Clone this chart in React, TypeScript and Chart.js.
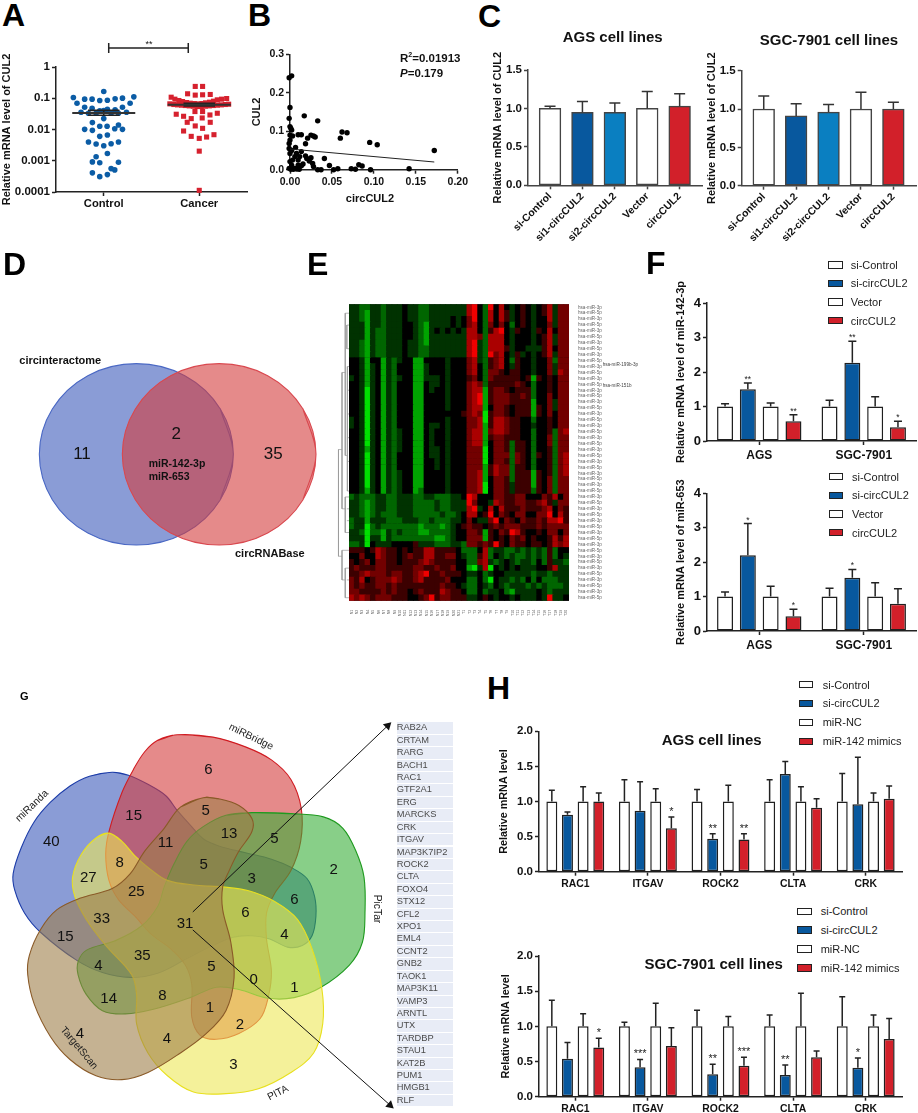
import React, { useEffect, useRef } from 'react';
import { Chart, registerables } from 'chart.js';
Chart.register(...registerables);

const FONT = '"Liberation Sans", Arial, sans-serif';
Chart.defaults.font.family = FONT;

const BLUE = '#08589e', LBLUE = '#0a7fc1', RED = '#d2202a', WHITE = '#ffffff', INK = '#222222';

/* ---------- panel A ---------- */
const groupsA = ['Control', 'Cancer'];
const logTicksA = [1, 0.1, 0.01, 0.001, 0.0001];
const controlOffset = [-.318,-.28,-.2,-.122,-.042,.038,.119,.196,.276,.315,0,-.238,-.2,-.122,-.042,.038,.119,.196,.238,0,-.16,-.08,.077,.154,0,-.119,.035,-.042,.154,-.2,-.119,.115,.196,-.042,.038,-.16,-.08,0,.077,.154,.038,-.08,-.119,-.042,.154,.077,.115,-.119,.038,-.042];
const controlValue = [.106,.0695,.0935,.0935,.0847,.0867,.0957,.1007,.0695,.111,.165,.0357,.0517,.048,.0394,.0446,.0424,.0517,.0357,.0405,.0331,.0331,.0331,.0331,.0223,.0166,.01265,.01265,.01396,.0101,.0094,.0106,.0101,.00603,.00665,.00396,.00342,.00302,.0035,.00396,.00171,.00134,.00092,.00086,.0009,.00056,.00051,.00041,.00036,.00031];
const cancerOffset = [-.042,.035,-.122,-.042,.035,.115,-.294,-.255,-.213,-.175,-.133,-.094,-.052,-.014,.028,.066,.108,.15,.189,.234,.287,-.308,-.266,-.227,-.185,-.147,-.105,-.063,-.021,.021,.063,.105,.147,.189,.231,.273,.308,-.045,.035,.112,.189,-.241,-.164,-.084,.031,-.126,-.042,.115,.035,-.164,-.084,0,.077,.154,0,0];
const cancerValue = [.239,.239,.139,.126,.129,.132,.108,.0935,.0847,.0786,.073,.0695,.0678,.0662,.0678,.0713,.0748,.0806,.0889,.0935,.098,.0662,.063,.0614,.06,.0585,.057,.0556,.0543,.0543,.0556,.057,.0585,.06,.0614,.063,.0645,.0375,.0375,.0292,.0331,.0308,.0265,.0223,.0234,.017,.013,.017,.0109,.00895,.00603,.0052,.00574,.00682,.00203,.000113];
const meanA = [0.034, 0.0625];
const semLowA = [0.0285, 0.057];
const semHighA = [0.041, 0.069];
const bracketX = [0.052, 0.885];
const bracketY = [5.9, 2.8, 4.08];

/* ---------- panel B ---------- */
const circValues = [-.001,.002,0,-.001,.017,.033,0,.001,.002,0,.003,.0097,.0135,.021,.025,.028,.03,.0185,.0066,-.001,.002,.062,.068,.06,.095,.104,.172,.142,.041,.047,.057,.052,.073,.078,.082,.086,.096,.033,.037,.027,.028,.023,.025,.0185,.02,.0135,.0116,.0097,.0155,.0135,.0097,.0058,.002,-.001,0,.003,.0058,0,.0077,-.001,0,.001,.004,.008,.011];
const cul2Values = [.239,.244,.162,.1335,.14,.127,.112,.1075,.103,.09,.0875,.091,.091,.082,.09,.0875,.085,.0676,.058,.055,.05,.098,.096,.082,.071,.065,.05,.0026,.029,.011,.0026,0,.0026,.001,.013,.0095,0,0,0,.016,.008,.0225,.031,.036,.029,.047,.034,.025,.015,.0104,.012,.0035,.012,.0035,.021,.025,.034,.042,.042,.068,.077,.001,.001,.002,.001];
const fitX = [0, 0.172];
const fitY = [0.0538, 0.02];

/* ---------- panel C ---------- */
const groupsC = ['si-Control', 'si1-circCUL2', 'si2-circCUL2', 'Vector', 'circCUL2'];
const colorsC = [WHITE, BLUE, LBLUE, WHITE, RED];
const agsC = [1, .95, .95, 1, 1.03];
const agsCErr = [.03, .14, .12, .22, .16];
const sgcC = [1, .91, .96, 1, 1];
const sgcCErr = [.17, .16, .1, .22, .09];

/* ---------- panel D ---------- */
const circinteractomeOutline = [[700,643],[661,779],[554.5,879],[409,915],[263.5,879],[157,779],[118,643],[157,507],[263.5,407],[409,371],[554.5,407],[661,507],[700,643]];
const circRNABaseOutline = [[948,643],[909,779],[803,879],[657.5,915],[512,879],[406,779],[367,643],[406,507],[512,407],[657.5,371],[803,407],[909,507],[948,643]];

/* ---------- panel E ---------- */
const heatRows = [
'3322332333 4332233333 3378428474 34543457366',
'3321332333 4332233333 3378427475 34543457366',
'3321332333 4332233334 3468427475 34543447366',
'3331332333 4432133334 3467426464 24543446366',
'3331322333 4432134343 4377425784 35443547466',
'3331322333 4432133333 3377627774 34443457366',
'3321322333 4332133333 3378327774 34443457366',
'3321322333 4332233333 3378327775 34433357466',
'3321322333 4332233333 3378328674 35343457366',
'4431441323 4411444434 4467325674 25443446266',
'4431341324 4411344434 4467425674 35443446366',
'4431341324 4411344434 4467426654 55443446376',
'3431341323 4411333434 4456426555 55451545466',
'4431341324 4411433434 4467625555 56542445466',
'4430341324 4411434434 4467715665 45552445466',
'4430341324 4411444434 4467815666 55652446466',
'4430341324 4411444434 4467815666 55551446366',
'4430341324 4411444434 4467714665 45551546366',
'4430341324 4411444444 4567605665 45551546466',
'3430341324 4411444434 4466705776 55442445466',
'3430341324 4411433434 4466715776 55443445466',
'4430341323 4411434434 4467716776 55442445267',
'4430341323 4411434434 4467715665 55442446266',
'4430341323 4411434434 4467714665 25542446266',
'4431341323 4411433434 4466604665 25542445266',
'4430341324 4411433434 4466604666 26542545267',
'4430341324 4411443434 4466604665 26542445267',
'4430341324 4411443434 4466615766 25542445267',
'4430341323 4411444434 4466715766 25551545267',
'4430341323 4411444434 4466714665 25551546266',
'4430341323 4411444434 4466704665 35551546266',
'4431341323 4412444434 4466704665 35552546266',
'2322233223 3322332223 3487444665 56644465746',
'3321233223 3322223223 3386443765 56655675366',
'3321233223 3322223223 3378347475 55655567465',
'3321232223 3322222322 3477458465 46644668475',
'2331333222 3332232223 3464336846 54655657785',
'2330232222 2221222123 4565545656 66555656666',
'3320221323 2221122223 4466515465 87544546646',
'3330331322 2222221123 4466615454 65645445757',
'2230433344 4453332223 3266565854 65545545767',
'5554576554 5455775555 4222472332 23232325244',
'4464476554 5655775566 4322572432 32232325243',
'5456466554 5556765555 4422673234 32332425332',
'5655566555 5566556556 4410370434 34333445733',
'5567666566 5567855655 5433423443 33332332333',
'6574566676 5567555564 4422420433 23242422233',
'6565566565 5555555655 4322432432 33323232223',
'6655556565 5456555765 5422423342 13333432333',
'7676566655 5445685665 5533454344 34333438334',
];
const heatColors = ['#00e000','#00a400','#006600','#003200','#000000','#3c0000','#720000','#aa0000','#f00000'];
const scaleLevels = [8, 7, 6, 5, 4, 3, 2, 1, 0];
const colLabels = ['N1','N2','N3','N4','N5','N6','N7','N8','N9','N10','N11','N12','N13','N14','N15','N16','N17','N18','N19','N20','N21','T1','T2','T3','T4','T5','T6','T7','T8','T9','T10','T11','T12','T13','T14','T15','T16','T17','T18','T19','T20'];
const rowLabels = heatRows.map((_, i) => (i % 2 ? 'hsa-miR-5p' : 'hsa-miR-3p'));
const dendroSegments = [
 [[-2.46,24],[-2.46,42]],[[-2.46,24],[-1.8,24]],[[-2.46,42],[-1.8,42]],[[-1.8,11],[-1.8,34]],[[-1.8,11],[-1.2,11]],
 [[-1.2,1],[-1.2,25]],[[-1.2,1],[-.5,1]],[[-1.2,25],[-.8,25]],[[-.8,10],[-.8,31]],[[-.8,10],[-.5,10]],[[-.8,31],[-.5,31]],
 [[-1.8,34],[-1.2,34]],[[-1.2,32],[-1.2,38]],[[-1.2,32],[-.5,32]],[[-1.2,38],[-.5,38]],[[-1.8,41],[-1.8,46]],[[-1.8,41],[-.5,41]],
 [[-1.8,46],[-1.2,46]],[[-1.2,44],[-1.2,49]],[[-1.2,44],[-.5,44]],[[-1.2,49],[-.5,49]],[[-.9,3],[-.9,7]],[[-.9,3],[-.5,3]],[[-.9,7],[-.5,7]],
 [[-.8,14],[-.5,14]],[[-.8,18],[-.5,18]],[[-.8,22],[-.5,22]],[[-.8,26],[-.5,26]],[[-.9,34],[-.5,34]],[[-.9,36],[-.5,36]],[[-.9,46],[-.5,46]],
];

/* ---------- panel F ---------- */
const groupsF = ['AGS', 'SGC-7901'];
const legendF = ['si-Control', 'si-circCUL2', 'Vector', 'circCUL2'];
const legendColors = [WHITE, BLUE, WHITE, RED];
const f1Values = [[1, 1], [1.5, 2.27], [1, 1], [.57, .4]];
const f1Err = [[.08, .18], [.18, .62], [.1, .28], [.19, .17]];
const f1Stars = [['', ''], ['**', '**'], ['', ''], ['**', '*']];
const f2Values = [[1, 1], [2.2, 1.55], [1, 1], [.43, .79]];
const f2Err = [[.13, .24], [.92, .24], [.3, .4], [.2, .44]];
const f2Stars = [['', ''], ['*', '*'], ['', ''], ['*', '']];

/* ---------- panel G ---------- */
const miRandaOutline = [[330,268],[380,277],[440,305],[495,340],[530,385],[570,430],[610,472],[660,495],[740,515],[820,535],[880,560],[930,595],[953,650],[957,710],[945,770],[915,800],[870,805],[815,780],[760,770],[700,775],[640,800],[560,840],[470,885],[385,898],[300,883],[220,845],[110,760],[60,700],[30,630],[25,580],[50,500],[90,420],[140,360],[200,310],[260,280],[330,268]];
const miRBridgeOutline = [[530,153],[470,170],[430,205],[395,260],[360,330],[320,450],[310,520],[320,600],[350,660],[400,710],[450,765],[510,810],[555,860],[575,920],[575,1020],[600,1075],[650,1088],[720,1070],[785,1025],[810,960],[820,880],[805,780],[805,700],[830,640],[880,570],[910,480],[912,380],[880,290],[820,230],[740,190],[640,160],[530,153]];
const picTarOutline = [[760,392],[680,400],[610,435],[560,480],[520,550],[490,620],[470,680],[420,740],[340,785],[250,815],[225,850],[225,890],[250,950],[300,1000],[370,1010],[460,995],[570,960],[650,928],[720,935],[810,962],[890,960],[970,930],[1060,860],[1100,790],[1108,700],[1105,590],[1080,510],[1040,440],[980,405],[880,395],[760,392]];
const pitaOutline = [[320,455],[280,470],[235,520],[208,590],[215,650],[250,720],[310,800],[390,890],[405,950],[405,1040],[440,1130],[500,1200],[580,1250],[680,1255],[780,1240],[880,1190],[950,1130],[978,1040],[975,930],[945,810],[900,720],[830,665],[750,632],[670,620],[590,615],[500,600],[440,560],[400,525],[360,480],[320,455]];
const targetScanOutline = [[610,346],[540,375],[490,440],[430,510],[385,580],[330,625],[230,655],[160,690],[110,750],[75,830],[70,890],[90,980],[140,1080],[200,1150],[280,1200],[360,1212],[440,1190],[540,1130],[620,1070],[680,1000],[705,900],[695,790],[670,690],[670,620],[690,570],[720,510],[760,450],[760,410],[720,370],[660,350],[610,346]];
const arrowUp = [[578,697],[1178,125]];
const arrowDown = [[578,752],[1185,1290]];
const regionCounts: [string, number, number][] = [['6',625,263],['40',154,481],['15',401,402],['5',617,388],['11',497,482],['13',687,455],['5',823,472],['2',1001,565],['8',359,544],['27',265,588],['25',409,630],['5',611,548],['3',755,590],['6',883,654],['33',305,711],['31',555,727],['6',736,692],['4',853,758],['15',196,766],['35',427,822],['5',634,855],['4',295,851],['0',761,893],['1',883,917],['14',326,952],['8',487,941],['1',630,977],['2',720,1028],['4',240,1055],['4',501,1070],['3',700,1150]];
const setNames: [string, number, number, number][] = [['miRBridge',752,172,26],['miRanda',95,378,-44],['PicTar',1130,688,90],['TargetScan',238,1103,50],['PITA',833,1240,-27]];
const geneList = ['RAB2A','CRTAM','RARG','BACH1','RAC1','GTF2A1','ERG','MARCKS','CRK','ITGAV','MAP3K7IP2','ROCK2','CLTA','FOXO4','STX12','CFL2','XPO1','EML4','CCNT2','GNB2','TAOK1','MAP3K11','VAMP3','ARNTL','UTX','TARDBP','STAU1','KAT2B','PUM1','HMGB1','RLF'];

/* ---------- panel H ---------- */
const genesH = ['RAC1', 'ITGAV', 'ROCK2', 'CLTA', 'CRK'];
const legendH = ['si-Control', 'si-circCUL2', 'miR-NC', 'miR-142 mimics'];
const h1Values = [[1,1,1,1,1],[.81,.87,.47,1.39,.96],[1,1,1,1,1],[1,.62,.46,.91,1.04]];
const h1Err = [[.16,.31,.17,.31,.4],[.04,.41,.07,.18,.67],[.21,.18,.23,.21,.12],[.12,.16,.08,.13,.18]];
const h1Stars = [['','','','',''],['','','**','',''],['','','','',''],['','*','**','','']];
const h2Values = [[1,1,1,1,1],[.54,.42,.32,.31,.41],[1,1,1,1,1],[.7,.72,.44,.56,.82]];
const h2Err = [[.37,.06,.23,.16,.42],[.23,.11,.14,.14,.14],[.18,.33,.14,.47,.16],[.13,.26,.12,.09,.29]];
const h2Stars = [['','','','',''],['','***','**','**','*'],['','','','',''],['*','','***','','']];

/* ---------- helpers ---------- */
type Rect = [number, number, number, number];

const errorBars = {
  id: 'errorBars',
  afterDatasetsDraw(chart: any, _a: any, o: any) {
    const { ctx, scales } = chart;
    chart.data.datasets.forEach((ds: any, i: number) => {
      if (!ds.err) return;
      const meta = chart.getDatasetMeta(i);
      meta.data.forEach((el: any, j: number) => {
        const v = meta.controller.getParsed(j).y;
        const top = scales.y.getPixelForValue(v + ds.err[j]);
        const base = scales.y.getPixelForValue(v);
        ctx.save();
        ctx.strokeStyle = o.color || INK;
        ctx.lineWidth = 1.5;
        ctx.beginPath();
        ctx.moveTo(el.x, base);
        ctx.lineTo(el.x, top);
        ctx.moveTo(el.x - o.cap, top);
        ctx.lineTo(el.x + o.cap, top);
        ctx.stroke();
        const star = ds.stars && ds.stars[j];
        if (star) {
          ctx.fillStyle = '#222';
          ctx.font = `${o.starSize}px ${FONT}`;
          ctx.textAlign = 'center';
          ctx.textBaseline = 'alphabetic';
          ctx.fillText(star, el.x, top - o.starGap);
        }
        ctx.restore();
      });
    });
  },
};

/* black backing behind the heat map cells */
const heatBacking = {
  id: 'heatBacking',
  beforeDatasetsDraw(chart: any) {
    const { ctx, chartArea: a } = chart;
    ctx.save();
    ctx.fillStyle = '#000';
    ctx.fillRect(a.left, a.top, a.right - a.left, a.bottom - a.top);
    ctx.restore();
  },
};

const axisLook = (color: string, w: number, tick: number) => ({
  border: { display: true, color, width: w },
  grid: { display: true, drawOnChartArea: false, drawTicks: true, tickLength: tick, tickColor: color, tickWidth: w, offset: false },
});

const frame = (plot: Rect, box: Rect) => ({
  autoPadding: false,
  padding: { left: 0, top: plot[1] - box[1], right: box[2] - plot[2], bottom: 0 },
});

const baseOptions = (plot: Rect, box: Rect) => ({
  responsive: false,
  animation: false as const,
  layout: frame(plot, box),
});

const offPlugins = { legend: { display: false }, tooltip: { enabled: false }, title: { display: false } };

const yAxis = (plot: Rect, box: Rect, o: any) => ({
  min: o.min,
  max: o.max,
  ...axisLook(o.color, o.w, 4),
  afterFit: (s: any) => { s.width = plot[0] - box[0]; },
  ticks: { stepSize: o.step, padding: 2, color: '#111', font: { size: o.tickSize, weight: 'bold' }, callback: (v: number) => Number(v).toFixed(o.dec) },
  title: { display: true, text: o.title, color: '#111', padding: { top: 0, bottom: 0 }, font: { size: o.titleSize, weight: 'bold', lineHeight: 1.2 } },
});

const outlineData = (pts: number[][]) => pts.map(([x, y]) => ({ x, y }));
/* the outline is traced a little past its seam so the smoothing has neighbours on both sides */
const closedData = (pts: number[][]) => outlineData([pts[pts.length - 2], ...pts, pts[1]]);

const Canvas = ({ box, config, blur = 0 }: { box: Rect; config: () => any; blur?: number }) => {
  const ref = useRef<HTMLCanvasElement>(null);
  useEffect(() => {
    const c = new Chart(ref.current as any, config());
    return () => c.destroy();
  }, []);
  return (
    <canvas ref={ref} width={box[2] - box[0]} height={box[3] - box[1]}
      style={{ position: 'absolute', left: box[0], top: box[1], width: box[2] - box[0], height: box[3] - box[1], filter: blur ? `blur(${blur}px)` : undefined }} />
  );
};

const T = ({ x, y, s = 11, b = false, a = 'left', r = 0, c = '#111', children }: any) => (
  <div style={{
    position: 'absolute', left: x, top: y, fontFamily: FONT, fontSize: s, fontWeight: b ? 700 : 400, lineHeight: 1, color: c,
    whiteSpace: 'nowrap', transform: `translate(${a === 'center' ? '-50%' : '0'},-50%) rotate(${r}deg)`,
  }}>{children}</div>
);

const Legend = ({ x, ys, tx, w, names }: any) => (
  <>
    {names.map((n: string, i: number) => (
      <React.Fragment key={n}>
        <div style={{ position: 'absolute', left: x, top: ys[i] - 3.7, width: w, height: 7.4, boxSizing: 'border-box', border: '1.4px solid #222', background: legendColors[i] }} />
        <T x={tx} y={ys[i]} s={11} c="#222">{n}</T>
      </React.Fragment>
    ))}
  </>
);

/* ---------- chart configs ---------- */
const boxA: Rect = [0, 35, 250, 215];
const plotA: Rect = [56, 67, 247, 192];
const configA = () => ({
  type: 'scatter',
  data: {
    datasets: [
      { label: 'bracket', showLine: true, clip: false, order: 0, pointRadius: 0, borderColor: INK, borderWidth: 1.5,
        data: [{ x: bracketX[0], y: bracketY[0] }, { x: bracketX[0], y: bracketY[1] }, { x: bracketX[0], y: bracketY[2] }, { x: bracketX[1], y: bracketY[2] }, { x: bracketX[1], y: bracketY[0] }, { x: bracketX[1], y: bracketY[1] }] },
      ...[0, 1].flatMap((g) => {
        const line = (w: number, v: number, lw: number, col: string) => ({ showLine: true, clip: false, order: 0, pointRadius: 0, borderColor: col, borderWidth: lw, data: [{ x: g - w, y: v }, { x: g + w, y: v }] });
        return [
          line(0.33, meanA[g], 2, '#333'),
          line(0.165, semLowA[g], 1.6, '#222'),
          line(0.165, semHighA[g], 1.6, '#222'),
          { showLine: true, clip: false, order: 0, pointRadius: 0, borderColor: '#222', borderWidth: 1.6, data: [{ x: g, y: semLowA[g] }, { x: g, y: semHighA[g] }] },
        ];
      }),
      { label: 'Control', order: 1, clip: false, pointStyle: 'circle', pointRadius: 2.8, pointBorderWidth: 0, pointBackgroundColor: '#0b5ca5',
        data: controlValue.map((y, i) => ({ x: 0 + controlOffset[i], y })) },
      { label: 'Cancer', order: 1, clip: false, pointStyle: 'rect', pointRadius: 3.6, pointBorderWidth: 0, pointBackgroundColor: '#d6212e',
        data: cancerValue.map((y, i) => ({ x: 1 + cancerOffset[i], y })) },
    ],
  },
  options: {
    ...baseOptions(plotA, boxA),
    plugins: offPlugins,
    scales: {
      x: { type: 'linear', min: -0.5, max: 1.5, ...axisLook(INK, 1.5, 4),
        afterBuildTicks: (s: any) => { s.ticks = [{ value: 0 }, { value: 1 }]; },
        afterFit: (s: any) => { s.height = boxA[3] - plotA[3]; },
        ticks: { padding: 1, color: '#111', font: { size: 11.2, weight: 'bold' }, autoSkip: false, callback: (v: number) => groupsA[v] } },
      y: { type: 'logarithmic', min: 0.0001, max: 1, ...axisLook(INK, 1.5, 4),
        afterBuildTicks: (s: any) => { s.ticks = logTicksA.map((value) => ({ value })); },
        afterFit: (s: any) => { s.width = plotA[0] - boxA[0]; },
        ticks: { padding: 2, color: '#111', font: { size: 11.5, weight: 'bold' }, autoSkip: false, callback: (v: number) => String(v) },
        title: { display: true, text: 'Relative mRNA level of CUL2', color: '#111', padding: { top: 0, bottom: 0 }, font: { size: 11, weight: 'bold', lineHeight: 1.2 } } },
    },
  },
  plugins: [],
});

const boxB: Rect = [250, 45, 470, 190];
const plotB: Rect = [290, 54.3, 462.7, 169.7];
const configB = () => ({
  type: 'scatter',
  data: {
    datasets: [
      { label: 'fit', showLine: true, order: 0, clip: false, pointRadius: 0, borderColor: INK, borderWidth: 1, data: fitX.map((x, i) => ({ x, y: fitY[i] })) },
      { label: 'samples', order: 1, clip: false, pointRadius: 2.7, pointBorderWidth: 0, pointBackgroundColor: '#000', data: circValues.map((x, i) => ({ x, y: cul2Values[i] })) },
    ],
  },
  options: {
    ...baseOptions(plotB, boxB),
    plugins: offPlugins,
    scales: {
      x: { type: 'linear', min: 0, max: 0.2, ...axisLook(INK, 1.5, 4),
        afterFit: (s: any) => { s.height = boxB[3] - plotB[3]; },
        ticks: { stepSize: 0.05, padding: 2, color: '#111', font: { size: 10.5, weight: 'bold' }, callback: (v: number) => Number(v).toFixed(2) } },
      y: yAxis(plotB, boxB, { min: 0, max: 0.3, step: 0.1, dec: 1, tickSize: 10.5, title: 'CUL2', titleSize: 11, color: INK, w: 1.5 }),
    },
  },
});

const barCDataset = (vals: number[], errs: number[]) => ({
  data: vals.map((y, x) => ({ x, y })),
  err: errs,
  backgroundColor: colorsC,
  borderColor: '#444',
  borderWidth: 1.5,
  borderSkipped: false,
  barThickness: 21.7,
});
const configC = (plot: Rect, box: Rect, vals: number[], errs: number[], min: number, max: number) => () => ({
  type: 'bar',
  data: { datasets: [barCDataset(vals, errs)] },
  options: {
    ...baseOptions(plot, box),
    plugins: { ...offPlugins, errorBars: { cap: 5.5, starSize: 8, starGap: 1, color: '#333' } },
    scales: {
      x: { type: 'linear', min, max, offset: false, ...axisLook('#444', 1.5, 4),
        afterBuildTicks: (s: any) => { s.ticks = groupsC.map((_, value) => ({ value })); },
        afterFit: (s: any) => { s.height = box[3] - plot[3]; },
        ticks: { padding: 1, minRotation: 45, maxRotation: 45, autoSkip: false, color: '#111', font: { size: 10.4, weight: 'bold' }, callback: (v: number) => groupsC[v] } },
      y: yAxis(plot, box, { min: 0, max: 1.5, step: 0.5, dec: 1, tickSize: 11.5, title: 'Relative mRNA level of CUL2', titleSize: 11, color: '#444', w: 1.5 }),
    },
  },
  plugins: [errorBars],
});

const groupedConfig = (p: any) => () => ({
  type: 'bar',
  data: {
    labels: p.labels,
    datasets: p.values.map((v: number[], i: number) => ({
      label: p.names[i], data: v, err: p.errs[i], stars: p.stars[i],
      backgroundColor: legendColors[i], borderColor: '#1f1f1f', borderWidth: 1.5, borderSkipped: false,
      categoryPercentage: p.catPct, barPercentage: p.barPct,
    })),
  },
  options: {
    ...baseOptions(p.plot, p.box),
    plugins: { ...offPlugins, errorBars: { cap: p.cap, starSize: p.starSize, starGap: p.starGap } },
    scales: {
      x: { offset: true, ...axisLook(INK, 1.5, 4),
        afterFit: (s: any) => { s.height = p.box[3] - p.plot[3]; },
        ticks: { padding: p.xPad, color: '#111', autoSkip: false, maxRotation: 0, font: { size: p.xSize, weight: 'bold' } } },
      y: yAxis(p.plot, p.box, { min: 0, max: p.max, step: p.step, dec: p.dec, tickSize: p.ySize, title: p.title, titleSize: p.titleSize, color: INK, w: 1.5 }),
    },
  },
  plugins: [errorBars],
});

const vennSet = (pts: number[][], edge: string, fill: string, order: number, tension = 0.35, width = 1.1) => ({
  showLine: true, clip: false, order, data: closedData(pts), fill: 'shape', backgroundColor: fill, borderColor: edge, borderWidth: width,
  pointRadius: 0, tension, capBezierPoints: false,
});

const hiddenScales = (w: number, h: number) => ({
  x: { type: 'linear', display: false, min: 0, max: w },
  y: { type: 'linear', display: false, min: 0, max: h, reverse: true },
});

const boxD: Rect = [0, 240, 330, 580];
const configD = () => ({
  type: 'scatter',
  data: { datasets: [
    vennSet(circRNABaseOutline, '#d9484f', 'rgba(212,60,60,0.6)', 1),
    vennSet(circinteractomeOutline, '#4a68c4', 'rgba(60,90,187,0.6)', 2),
  ] },
  options: { responsive: false, animation: false, plugins: offPlugins, scales: hiddenScales(990, 1020) },
});

const boxG: Rect = [0, 680, 395, 1113];
const arrow = (pts: number[][], rot: number) => ({
  showLine: true, clip: false, order: 0, data: outlineData(pts), borderColor: '#111', borderWidth: 1,
  pointStyle: 'triangle', pointRadius: [0, 5], pointRotation: [0, rot], pointBackgroundColor: '#111', pointBorderWidth: 0,
});
const configG = () => ({
  type: 'scatter',
  data: { datasets: [
    arrow(arrowUp, 46),
    arrow(arrowDown, 131.5),
    vennSet(targetScanOutline, '#8a5a28', 'rgba(158,127,73,0.6)', 1),
    vennSet(pitaOutline, '#e8e020', 'rgba(237,232,87,0.6)', 2),
    vennSet(picTarOutline, '#1f9a1f', 'rgba(57,175,57,0.6)', 3),
    vennSet(miRBridgeOutline, '#d01c22', 'rgba(212,60,60,0.6)', 4),
    vennSet(miRandaOutline, '#1c3ca8', 'rgba(60,90,187,0.6)', 5),
  ] },
  options: { responsive: false, animation: false, plugins: offPlugins, scales: hiddenScales(1185, 1299) },
});

const boxE: Rect = [330, 285, 650, 622];
const plotE: Rect = [349, 304.3, 569, 600.7];
const configE = () => {
  const cells = heatRows.flatMap((row, r) => row.replace(/ /g, '').split('').map((ch, c) => ({ x: c, y: r, v: Number(ch) })));
  const dendro = dendroSegments.flatMap((seg) => [{ x: seg[0][0], y: seg[0][1] }, { x: seg[1][0], y: seg[1][1] }, { x: NaN, y: NaN }]);
  return {
    type: 'scatter',
    data: { datasets: [
      { label: 'tree', showLine: true, clip: false, spanGaps: false, data: dendro, borderColor: '#9a9a9a', borderWidth: 0.7, pointRadius: 0 },
      { label: 'key', clip: false, pointStyle: 'rect', pointRadius: 2.3, pointBorderWidth: 0,
        data: scaleLevels.map((v, i) => ({ x: 53.6, y: -0.2 + i * 0.6, v })),
        pointBackgroundColor: (c: any) => heatColors[c.raw.v] },
      { label: 'expression', pointStyle: 'rect', pointRadius: 4.5, pointBorderWidth: 0, data: cells,
        pointBackgroundColor: (c: any) => heatColors[c.raw.v] },
    ] },
    options: {
      responsive: false, animation: false, plugins: offPlugins,
      layout: { autoPadding: false, padding: { left: plotE[0] - boxE[0], top: plotE[1] - boxE[1], right: 0, bottom: 0 } },
      scales: {
        x: { type: 'linear', min: -0.5, max: 40.5, border: { display: false }, grid: { display: false },
          afterBuildTicks: (s: any) => { s.ticks = colLabels.map((_, value) => ({ value })); },
          afterFit: (s: any) => { s.height = boxE[3] - plotE[3]; },
          ticks: { padding: 1, autoSkip: false, minRotation: 90, maxRotation: 90, color: '#555', font: { size: 3.6 }, callback: (v: number) => colLabels[v] } },
        y: { type: 'linear', position: 'right', reverse: true, min: -0.5, max: 49.5, border: { display: false }, grid: { display: false },
          afterBuildTicks: (s: any) => { s.ticks = rowLabels.map((_, value) => ({ value })); },
          afterFit: (s: any) => { s.width = boxE[2] - plotE[2]; },
          ticks: { padding: 1, autoSkip: false, color: '#666', font: { size: 4.6 }, callback: (v: number) => rowLabels[v] } },
      },
    },
    plugins: [heatBacking],
  };
};

const boxF1: Rect = [674, 270, 918, 470];
const plotF1: Rect = [707, 303, 916, 441];
const boxF2: Rect = [674, 462, 918, 660];
const plotF2: Rect = [707, 493.3, 916, 631];
const fCommon = { labels: groupsF, names: legendF, catPct: 0.873, barPct: 0.7, cap: 4, starSize: 8.5, starGap: 1, xPad: 3, xSize: 12, max: 4, step: 1, dec: 0, ySize: 13, titleSize: 11 };
const boxH1: Rect = [498, 720, 905, 895];
const plotH1: Rect = [539, 731.3, 902, 871.7];
const boxH2: Rect = [500, 945, 905, 1113];
const plotH2: Rect = [539, 956, 902, 1096.7];
const hCommon = { labels: genesH, names: legendH, catPct: 0.862, barPct: 0.7, cap: 3, starSize: 11, starGap: 2, xPad: 2, xSize: 10.4, max: 2, step: 0.5, dec: 1, ySize: 11.5, titleSize: 10.8, title: 'Relative mRNA level' };
const boxC1: Rect = [491, 35, 706, 248];
const boxC2: Rect = [705, 35, 918, 248];

export default function App() {
  return (
    <div style={{ position: 'absolute', left: 0, top: 0, width: 918, height: 1113, background: '#fff', overflow: 'hidden' }}>
      <Canvas box={boxA} config={configA} />
      <Canvas box={boxB} config={configB} />
      <Canvas box={boxC1} config={configC([528, 70, 702, 185.3], boxC1, agsC, agsCErr, -0.68, 4.69)} />
      <Canvas box={boxC2} config={configC([741.7, 70.7, 916.7, 185.7], boxC2, sgcC, sgcCErr, -0.68, 4.72)} />
      <Canvas box={boxD} config={configD} />
      <Canvas box={boxE} config={configE} blur={0.5} />
      <Canvas box={boxF1} config={groupedConfig({ ...fCommon, plot: plotF1, box: boxF1, values: f1Values, errs: f1Err, stars: f1Stars, title: 'Relative mRNA level of miR-142-3p' })} />
      <Canvas box={boxF2} config={groupedConfig({ ...fCommon, plot: plotF2, box: boxF2, values: f2Values, errs: f2Err, stars: f2Stars, title: 'Relative mRNA level of miR-653' })} />
      <Canvas box={boxG} config={configG} />
      <Canvas box={boxH1} config={groupedConfig({ ...hCommon, plot: plotH1, box: boxH1, values: h1Values, errs: h1Err, stars: h1Stars })} />
      <Canvas box={boxH2} config={groupedConfig({ ...hCommon, plot: plotH2, box: boxH2, values: h2Values, errs: h2Err, stars: h2Stars })} />

      <T x={2} y={15} s={32} b c="#000">A</T>
      <T x={248} y={15} s={32} b c="#000">B</T>
      <T x={478} y={16} s={32} b c="#000">C</T>
      <T x={3} y={264} s={32} b c="#000">D</T>
      <T x={307} y={264} s={32} b c="#000">E</T>
      <T x={646} y={263} s={32} b c="#000">F</T>
      <T x={20} y={695.7} s={11} b c="#000">G</T>
      <T x={487} y={688} s={32} b c="#000">H</T>

      <T x={149} y={44} s={9} a="center">**</T>
      <T x={370} y={198} s={11} b a="center">circCUL2</T>
      <T x={400} y={58.5} s={11.5} b>R<sup style={{ fontSize: 7, lineHeight: 0 }}>2</sup>=0.01913</T>
      <T x={400} y={74} s={11.5} b><i>P</i>=0.179</T>
      <T x={612.7} y={36} s={15} b a="center">AGS cell lines</T>
      <T x={829} y={39} s={15} b a="center">SGC-7901 cell lines</T>

      <T x={82} y={452.7} s={17} a="center">11</T>
      <T x={273.3} y={452.7} s={17} a="center">35</T>
      <T x={176.3} y={433.3} s={17} a="center">2</T>
      <T x={148.7} y={463.3} s={10.5} b>miR-142-3p</T>
      <T x={148.7} y={476} s={10.5} b>miR-653</T>
      <T x={19.3} y={360} s={11} b>circinteractome</T>
      <T x={235} y={553.3} s={11} b>circRNABase</T>

      <T x={602.7} y={365} s={4.6} c="#444">hsa-miR-199b-3p</T>
      <T x={602.7} y={386} s={4.6} c="#444">hsa-miR-151b</T>

      <Legend x={828.3} w={14.4} tx={850.7} ys={[265, 283.3, 302, 320.7]} names={legendF} />
      <Legend x={828.6} w={14.4} tx={852} ys={[476.7, 495.3, 514, 532.7]} names={legendF} />
      <Legend x={798.7} w={14.6} tx={822.7} ys={[684.7, 703.3, 722.3, 741.3]} names={legendH} />
      <Legend x={796.7} w={15.6} tx={820.7} ys={[911.3, 930, 949, 968]} names={legendH} />
      <T x={711.7} y={738.5} s={15} b a="center">AGS cell lines</T>
      <T x={713.7} y={962.5} s={15} b a="center">SGC-7901 cell lines</T>

      {regionCounts.map(([t, x, y], i) => (
        <T key={i} x={x / 3} y={680 + y / 3} s={15} a="center" c="#111">{t}</T>
      ))}
      {setNames.map(([t, x, y, r]) => (
        <T key={t} x={x / 3} y={680 + y / 3} s={10.3} a="center" r={r} c="#222">{t}</T>
      ))}
      {geneList.map((g, i) => (
        <div key={g} style={{ position: 'absolute', left: 396.7, top: 722.3 + i * 12.42, width: 56.7, height: 11.4, background: '#e8ecf6', color: '#4a4a4a', fontFamily: FONT, fontSize: 9.3, lineHeight: '11.4px', whiteSpace: 'nowrap' }}>{g}</div>
      ))}
    </div>
  );
}
